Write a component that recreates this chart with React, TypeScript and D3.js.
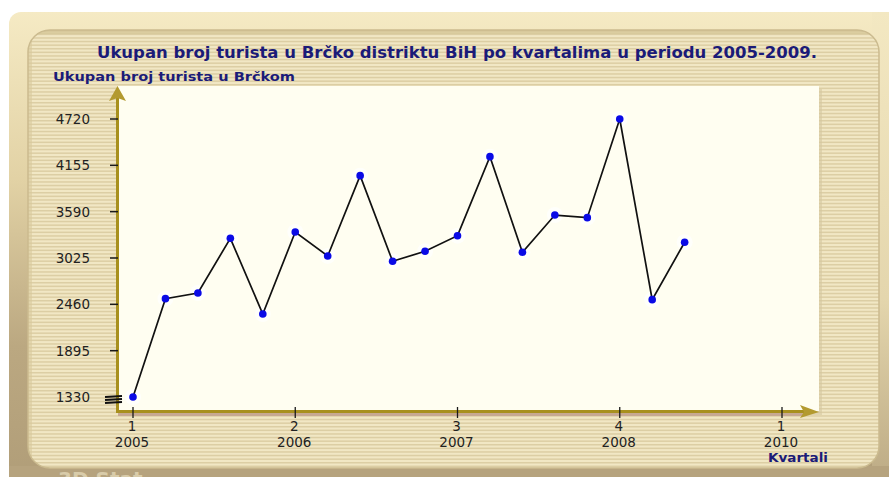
import React from "react";
import * as d3 from "d3";

const title = "Ukupan broj turista u Brčko distriktu BiH po kvartalima u periodu 2005-2009.";
const yTitle = "Ukupan broj turista u Brčkom";
const xTitle = "Kvartali";
const values = [1330, 2529, 2598, 3265, 2342, 3342, 3050, 4029, 2985, 3107, 3297, 4261, 3095, 3549, 3517, 4720, 2517, 3217];
const yTicks = [1330, 1895, 2460, 3025, 3590, 4155, 4720];
const xTickIndex = [0, 5, 10, 15, 20];
const xTickQuarter = ["1", "2", "3", "4", "1"];
const xTickYear = ["2005", "2006", "2007", "2008", "2010"];

const W = 889;
const H = 477;

export default function App() {
  const x = d3.scaleLinear().domain([0, 20]).range([133, 782]);
  const y = d3.scaleLinear().domain([1330, 4720]).range([397, 119]);
  const line = d3
    .line<number>()
    .x((_, i) => x(i))
    .y((d) => y(d));

  const stripes = d3.range(30, 470, 3.6);

  return (
    <svg
      width={W}
      height={H}
      style={{ position: "absolute", left: 0, top: 0, display: "block" }}
      fontFamily="'DejaVu Sans', Verdana, sans-serif"
    >
      <defs>
        <linearGradient id="outerG" x1="0" y1="0" x2="0" y2="1">
          <stop offset="0" stopColor="#f5eac4" />
          <stop offset="0.35" stopColor="#e2d2a5" />
          <stop offset="0.7" stopColor="#bba881" />
          <stop offset="1" stopColor="#b09d78" />
        </linearGradient>
        <linearGradient id="rightG" x1="0" y1="0" x2="0" y2="1">
          <stop offset="0" stopColor="#f3e8c2" />
          <stop offset="0.6" stopColor="#e4d6ad" />
          <stop offset="1" stopColor="#bba983" />
        </linearGradient>
        <clipPath id="innerClip">
          <rect x={28} y={30} width={851} height={438} rx={22} />
        </clipPath>
      </defs>

      <rect x={0} y={0} width={W} height={H} fill="#ffffff" />
      {/* outer frame */}
      <rect x={9} y={12} width={W - 9} height={H} rx={12} fill="url(#outerG)" />
      <rect x={872} y={12} width={17} height={H} fill="url(#rightG)" />
      <rect x={9} y={466} width={W - 9} height={12} fill="#b6a37e" />
      <text x={58} y={486} fontSize={20} fontWeight="bold" fill="#d9ccaa">
        3D Stat
      </text>

      {/* inner striped panel */}
      <rect x={28} y={30} width={851} height={438} rx={22} fill="#f1e7c4" />
      <g clipPath="url(#innerClip)">
        {stripes.map((s, i) => (
          <rect key={i} x={28} y={s} width={851} height={1.5} fill="#dcceA4" />
        ))}
        <rect x={28} y={30} width={851} height={4} fill="#d2c292" opacity={0.7} />
        <rect x={28} y={30} width={4} height={438} fill="#d8c99d" opacity={0.6} />
      </g>
      <rect x={28} y={30} width={851} height={438} rx={22} fill="none" stroke="#cbbb8f" strokeWidth={1.5} />

      {/* plot area */}
      <rect x={121} y={89} width={701} height={326} fill="#d6c8a0" opacity={0.6} />
      <rect x={118} y={86} width={701} height={325} fill="#fffef1" />
      <rect x={118} y={412} width={688} height={4} fill="#c7a992" />

      {/* titles */}
      <text
        x={97}
        y={58}
        fontSize={15.5}
        fontWeight="bold"
        fill="#1b1b78"
        textLength={720}
        lengthAdjust="spacingAndGlyphs"
      >
        {title}
      </text>
      <text
        x={53}
        y={81}
        fontSize={12.5}
        fontWeight="bold"
        fill="#1b1b78"
        textLength={242}
        lengthAdjust="spacingAndGlyphs"
      >
        {yTitle}
      </text>
      <text
        x={768}
        y={462}
        fontSize={12.5}
        fontWeight="bold"
        fill="#1b1b78"
        textLength={60}
        lengthAdjust="spacingAndGlyphs"
      >
        {xTitle}
      </text>

      {/* axes */}
      <line x1={117.5} y1={412} x2={117.5} y2={98} stroke="#a8901e" strokeWidth={3} />
      <path d="M117.5,86 L126,101 L117.5,98 L109,101 Z" fill="#b39a30" />
      <line x1={116} y1={411.5} x2={804} y2={411.5} stroke="#a8901e" strokeWidth={3} />
      <path d="M819,412 L800,405 L804,412 L800,418 Z" fill="#b39a30" />

      {/* y ticks */}
      {yTicks.map((t, i) => (
        <g key={t}>
          {i > 0 && (
            <line x1={110} y1={y(t)} x2={118} y2={y(t)} stroke="#1a1a1a" strokeWidth={1.5} />
          )}
          <text x={90} y={y(t) + 5} fontSize={13.5} fill="#222" textAnchor="end">
            {t}
          </text>
        </g>
      ))}
      {/* axis break mark */}
      {[0, 3, 6].map((o) => (
        <line key={o} x1={105} y1={y(1330) + o} x2={122} y2={y(1330) - 1 + o} stroke="#111" strokeWidth={1.8} />
      ))}

      {/* x ticks */}
      {xTickIndex.map((t, i) => (
        <g key={i}>
          <line x1={x(t)} y1={407} x2={x(t)} y2={418} stroke="#1a1a1a" strokeWidth={1.3} />
          <text x={x(t) - 1} y={431} fontSize={13.5} fill="#222" textAnchor="middle">
            {xTickQuarter[i]}
          </text>
          <text x={x(t) - 1} y={447} fontSize={13.5} fill="#222" textAnchor="middle">
            {xTickYear[i]}
          </text>
        </g>
      ))}

      {/* data */}
      {values.map((v, i) => (
        <circle key={"h" + i} cx={x(i)} cy={y(v)} r={8} fill="#ffffff" opacity={0.7} />
      ))}
      <path d={line(values) || ""} fill="none" stroke="#111" strokeWidth={1.7} />
      {values.map((v, i) => (
        <circle key={i} cx={x(i)} cy={y(v)} r={3.8} fill="#0a0ae6" />
      ))}
    </svg>
  );
}
